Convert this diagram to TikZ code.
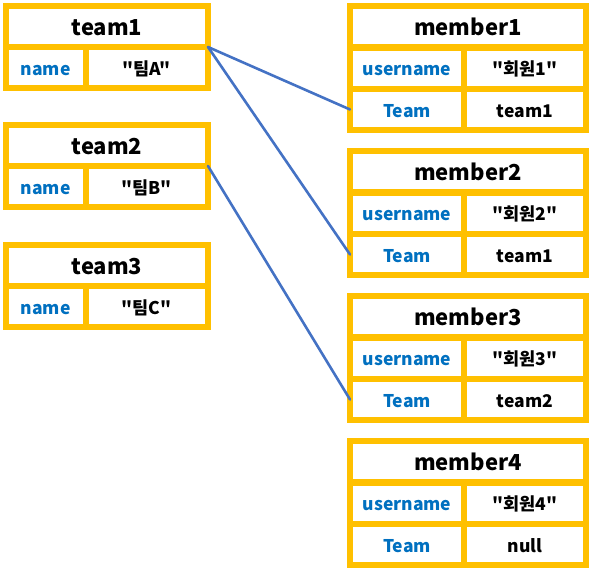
\documentclass[tikz,border=0pt]{standalone}
\usepackage{fontspec}
\setmainfont{Noto Sans CJK KR}[Ligatures=TeXOff]
\definecolor{boxyellow}{HTML}{FFC000}
\definecolor{keyblue}{HTML}{0070C0}
\definecolor{linkblue}{HTML}{4472C4}
\tikzset{
  cell/.style={draw=boxyellow, line width=6pt, fill=white, inner sep=0pt, outer sep=0pt,
    minimum height=41pt, font=\bfseries\fontsize{17.5}{17.5}\selectfont, anchor=center,
    text height=15pt, text depth=0pt},
  headcell/.style={cell, font=\bfseries\fontsize{22}{22}\selectfont, text height=17.5pt},
  keycell/.style={cell, text=keyblue},
  valcell/.style={cell, text=black},
  link/.style={draw=linkblue, line width=2.6pt, line cap=round}
}
% team table: #1 name, #2 top line y, #3 title, #4 value
\newcommand{\teamtable}[4]{%
  \node[headcell, minimum width=202pt] (#1-h) at (107,#2+20.5) {#3};
  \node[keycell, minimum width=79.5pt] (#1-k) at (45.75,#2+61.5) {name};
  \node[valcell, minimum width=122.5pt] (#1-v) at (146.75,#2+61.5) {#4};
}
% member table: #1 name, #2 top line y, #3 title, #4 username value, #5 team value
\newcommand{\membertable}[5]{%
  \node[headcell, minimum width=236pt] (#1-h) at (468,#2+20.75) {#3};
  \node[keycell, minimum width=114pt] (#1-uk) at (407,#2+62.25) {username};
  \node[valcell, minimum width=122pt] (#1-uv) at (525,#2+62.25) {#4};
  \node[keycell, minimum width=114pt] (#1-tk) at (407,#2+103.5) {Team};
  \node[valcell, minimum width=122pt] (#1-tv) at (525,#2+103.5) {#5};
}
\begin{document}
\begin{tikzpicture}[x=1pt, y=-1pt]
\useasboundingbox (0,0) rectangle (593,573);
\teamtable{team1}{6}{team1}{"팀A"}
\teamtable{team2}{125}{team2}{"팀B"}
\teamtable{team3}{245}{team3}{"팀C"}
\membertable{member1}{6}{member1}{"회원1"}{team1}
\membertable{member2}{151}{member2}{"회원2"}{team1}
\membertable{member3}{296}{member3}{"회원3"}{team2}
\membertable{member4}{441}{member4}{"회원4"}{null}
\draw[link] (team1-h.south east) -- (member1-tk.west);
\draw[link] (team1-h.south east) -- (member2-tk.west);
\draw[link] (team2-h.south east) -- (member3-tk.west);
\end{tikzpicture}
\end{document}
